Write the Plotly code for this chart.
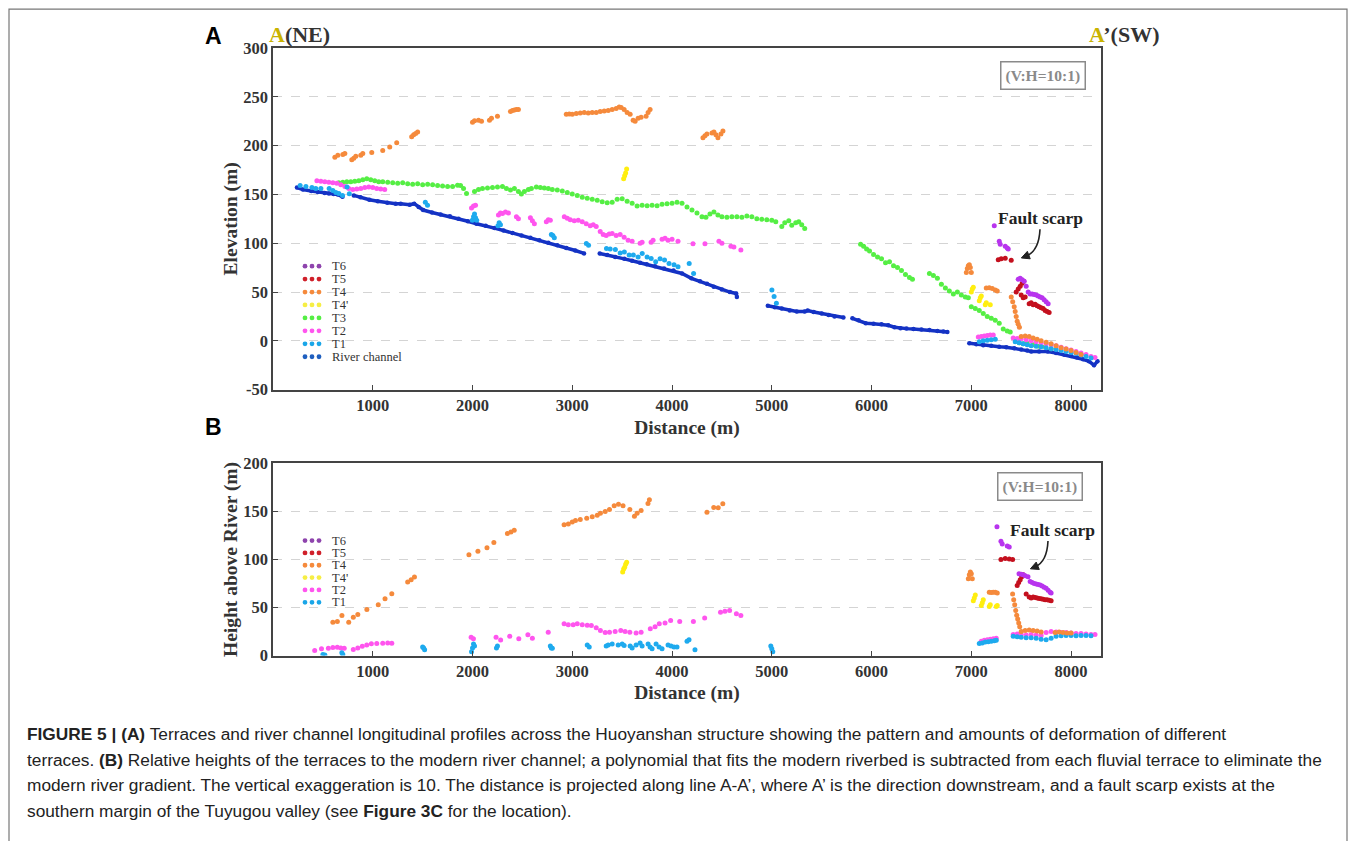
import plotly.graph_objects as go

W, H = 1355, 841

# ---------------- DATA ----------------
# Panel A: elevation (m) vs distance (m)
river_x = [240, 300, 384, 450, 518, 560, 608, 650, 697, None,
           810, 877, 966, 1050, 1146, 1230, 1280, 1370, 1415, 1460, 1505, 1594, 1680, 1773, 1860, 1953,
           2040, 2132, 2220, 2311, 2401, 2491, 2580, 2670, 2760, 2850, 2940, 3030, 3118, None,
           3275, 3350, 3430, 3522, 3600, 3680, 3746, 3830, 3920, 4015, 4100, 4194, 4280, 4350, 4418,
           4500, 4580, 4643, 4650, None,
           4960, 5030, 5100, 5180, 5250, 5330, 5360, 5420, 5500, 5570, 5629, 5718, None,
           5808, 5870, 5942, 6020, 6100, 6167, 6230, 6290, 6350, 6420, 6500, 6580, 6660, 6720, 6760, None,
           6980, 7050, 7120, 7200, 7280, 7350, 7430, 7500, 7560, 7600, 7680, 7766, 7850, 7933, 8000,
           8060, 8120, 8180, 8230, 8265]
river_y = [157, 155, 153.5, 152.5, 151.5, 151, 150.5, 150, 147.5, None,
           149, 147, 144.5, 143, 141.5, 140.5, 140.5, 139.4, 140.5, 137, 134, 131.5, 129.5, 127.5, 125, 122.5,
           120, 118, 115.5, 113, 110.5, 108, 105.5, 103, 100.5, 98, 95, 92.5, 89.5, None,
           89.5, 88, 86, 84, 82, 80, 78.5, 76.5, 74, 72, 69, 64, 61, 58.5, 55.5,
           52.5, 50, 48.5, 45, None,
           36, 34.5, 33, 31, 30, 30, 31, 29.5, 28, 26.5, 25, 24, None,
           23, 21, 18, 17.5, 17, 16, 14, 13, 12.5, 12, 11.5, 11, 10, 9.5, 9, None,
           -2.5, -3.5, -4.5, -5, -6, -6.5, -7.5, -9, -10, -11, -11, -11, -12.5, -14.3, -15.5,
           -17, -19, -21, -25, -21]

t1_x = [272, 330, 390, 429, 480, 563, 600, 630, 660, 697, 742, 765, 1527, 1549,
        1998, 2010, 2020, 2030, 2042, 2255, 2267, 2280, 2790, 2805, 2820, 3141, 3163,
        3343, 3380, 3432, 3480, 3522, 3570, 3612, 3660, 3701, 3750, 3791, 3836, 3880, 3925,
        3970, 4020, 4060, 4172, 4216, 5001, 5023, 5046,
        7080, 7120, 7160, 7200, 7240,
        7440, 7480, 7520, 7560, 7600, 7650, 7700, 7750, 7800, 7850, 7900, 7950, 8000, 8050,
        8100, 8150, 8200]
t1_y = [159, 158, 157, 156, 156, 156, 154, 152, 151, 149, 157.5, 150.7, 142, 138.8,
        123.5, 127, 130, 126, 123.5, 118, 121, 119, 109, 108, 105.5, 99.7, 98,
        94.6, 94, 93.6, 90, 91, 88, 87.8, 86, 89.5, 86, 84.4, 81, 84, 82.7,
        79.3, 78, 75.9, 79.3, 69, 52, 45.3, 38.5,
        -1, 0, 0.5, 1, 1.5,
        -1, -2, -3, -4, -5, -5.5, -6, -7, -8, -9, -10, -11, -12, -13,
        -14.5, -16, -17.5]

t2_x = [440, 480, 520, 560, 600, 640, 680, 720, 760, 800, 840, 880, 920, 960, 1000, 1040, 1080, 1120,
        1990, 2010, 2030, 2260, 2280, 2300, 2330, 2360, 2440, 2460, 2580, 2600, 2620, 2740, 2760, 2780,
        2920, 2950, 2980, 3020, 3060, 3100, 3140, 3180, 3210, 3240, 3280, 3310, 3340, 3370, 3400,
        3440, 3480, 3520, 3560, 3600, 3680, 3700, 3790, 3810, 3900, 3930, 3960, 4000, 4060, 4210,
        4330, 4470, 4500, 4590, 4620, 4690,
        7070, 7100, 7130, 7160, 7190, 7220,
        7420, 7460, 7500, 7550, 7600, 7650, 7700, 7750, 7800, 7850, 7900, 7950, 8000, 8050, 8100,
        8150, 8200, 8240]
t2_y = [164, 163.5, 163, 162.5, 162, 161.5, 160, 158, 156, 155, 155.5, 156, 157, 157.5, 157, 156, 155.5, 155,
        136, 138, 139, 129, 131, 130.5, 132, 131, 127, 125, 126, 123, 120, 122, 124, 123.5,
        127, 125.5, 124, 123, 123.5, 122, 120, 118, 119, 117, 112, 109, 108, 109.5, 110,
        108, 109, 106, 103, 102, 100, 101, 101, 103, 104, 105, 103, 104, 102, 99.5,
        99.5, 102, 100, 97, 96, 93,
        4, 4.5, 5, 5.5, 6, 6,
        3, 2.5, 2, 1, 0, -1, -2, -3, -4, -5, -6.5, -8, -9.5, -11, -12.5,
        -14, -16, -17]

t3_x = [660, 700, 740, 780, 820, 860, 900, 940, 980, 1020, 1060, 1100, 1150, 1200, 1250, 1300, 1350,
        1400, 1450, 1500, 1550, 1600, 1650, 1700, 1750, 1800, 1850, 1880, 1910, 1940,
        2020, 2060, 2100, 2150, 2200, 2250, 2300, 2340, 2380, 2420, 2460, 2490, 2520, 2560, 2590,
        2640, 2680, 2720, 2760, 2800, 2850, 2900, 2950, 3000, 3050, 3100, 3150, 3200, 3250, 3300,
        3350, 3400, 3450, 3500, 3550, 3600, 3650, 3700, 3750, 3800, 3850, 3900, 3950, 4000, 4050,
        4100, 4150, 4200, 4250, 4300, 4340, 4380, 4420, 4460, 4500, 4550, 4600, 4650, 4700, 4750,
        4800, 4850, 4900, 4950, 5000, 5040,
        5100, 5130, 5170, 5200, 5240, 5270, 5300, 5330,
        5890, 5920, 5950, 5980, 6020, 6060, 6100, 6140, 6180, 6220, 6260, 6300, 6340, 6380, 6410,
        6580, 6620, 6660, 6700, 6740, 6780, 6820, 6860, 6900, 6940, 6970, 7000, 7040, 7080, 7120,
        7160, 7200, 7240, 7280, 7320, 7360, 7390,
        7480, 7520, 7560, 7620, 7680, 7740, 7800]
t3_y = [162, 162.5, 163, 163, 163.5, 164, 165, 166, 165, 164, 163, 163, 162.5, 162, 161.5, 162, 161,
        160.5, 161, 160, 160.5, 160, 159, 158.5, 158, 158, 159.5, 159, 156, 151,
        153, 155, 156, 156.5, 157, 157.5, 158, 156, 154.5, 156, 153, 150.5, 153, 155, 156,
        157.5, 157, 156.5, 156, 155, 154.5, 153.5, 152, 150.5, 149, 147, 146, 145, 144, 142.5,
        141.5, 142, 145, 145.5, 143, 141, 138, 139, 138.5, 139, 138.5, 140, 140.5, 141, 142,
        141, 137, 134, 131, 127, 126.5, 130, 132, 129, 127, 126.5, 127, 127, 126.5, 128,
        127, 125, 124.5, 124, 123.5, 122,
        117, 121, 123, 118.5, 121, 122, 119, 115,
        99, 97, 94, 92, 88.5, 86, 84, 80, 81, 77, 75, 72, 68, 65, 63,
        69, 67, 64, 58, 54, 51, 48, 50, 47, 45, 44, 35, 33, 31, 28,
        25, 23, 21, 18, 12, 10, 9,
        -2, -3, -2.5, -4, -5.5, -6, -8]

t4p_x = [3515, 3525, 3535, 3545, 7000, 7010, 7020, 7080, 7090, 7100, 7140, 7150, 7190]
t4p_y = [166, 169, 172, 176, 50, 53, 55, 41, 44, 46, 37, 39, 37]

t4_x = [620, 650, 700, 720, 790, 810, 830, 880, 900, 990, 1100, 1170, 1240, 1390, 1410, 1430, 1450,
        2000, 2020, 2060, 2090, 2170, 2190, 2250, 2380, 2400, 2420, 2440, 2460,
        2940, 2970, 3000, 3040, 3080, 3120, 3160, 3200, 3240, 3280, 3320, 3360, 3400, 3440, 3470,
        3490, 3520, 3550, 3580, 3610, 3630, 3660, 3690, 3740, 3760, 3780,
        4310, 4330, 4350, 4400, 4420, 4440, 4460, 4490, 4510,
        6950, 6960, 6970, 6980, 6990, 7000, 7150, 7180, 7210, 7240, 7260,
        7400, 7415, 7430, 7440, 7450, 7460, 7470, 7482,
        7500, 7540, 7580, 7620, 7660, 7700, 7750, 7800, 7850, 7900, 7950, 8000, 8050, 8100]
t4_y = [188, 190, 191, 192, 185.5, 187, 189, 190, 192, 193, 195, 198.5, 203, 209, 211, 212.5, 214,
        224, 225.5, 226, 225, 226, 228, 230, 235, 236, 236.5, 237, 237,
        232, 232.5, 232, 233, 233.5, 234, 233.5, 234, 234, 235, 235.5, 236, 237, 238, 239.5,
        239, 237, 234, 232, 226, 225, 228, 229, 230, 234, 237,
        208, 210, 212, 213, 214, 211, 208, 212, 215,
        70, 74, 77, 78, 75, 70, 54, 54.5, 53.5, 52, 51,
        45, 40, 35, 30, 25, 20, 17, 14,
        4.4, 5, 4.5, 3, 1.5, 0, -1.5, -3, -5, -7, -8.5, -10, -12, -14]

t5_x = [7270, 7300, 7340, 7400, 7450, 7470, 7490, 7510, 7525, 7500, 7520, 7540,
        7580, 7600, 7620, 7640, 7660, 7680, 7700, 7720, 7740, 7760, 7780]
t5_y = [83, 84, 84.5, 82.5, 50, 53, 56, 59, 61, 47, 44, 45,
        38, 39, 37, 37.5, 36, 35, 34, 33, 31, 30, 29]

t6_x = [7230, 7280, 7290, 7340, 7360, 7370, 7470, 7490, 7510, 7530, 7550, 7570, 7590, 7610,
        7630, 7650, 7670, 7690, 7710, 7730, 7750, 7770]
t6_y = [118, 102, 99, 97, 95, 94, 63, 64, 62.5, 61, 56, 50, 48, 48,
        47.5, 47, 46, 45, 44, 42, 40, 38]

# Panel B: height above river (m) vs distance (m)
b_t1_x = [500, 520, 690, 700, 1500, 1510, 1520, 1990, 2000, 2010, 2020, 2240, 2250, 2780, 2790, 2800,
          3150, 3170, 3340, 3360, 3400, 3460, 3500, 3520, 3580, 3600, 3640, 3680, 3700, 3760, 3780,
          3800, 3840, 3870, 3900, 3960, 3990, 4020, 4050, 4150, 4170, 4230, 4990, 5000, 5010,
          7080, 7110, 7140, 7170, 7200, 7230, 7250,
          7420, 7460, 7500, 7550, 7600, 7650, 7700, 7750, 7800, 7850, 7900, 7950, 8000, 8050,
          8100, 8150, 8200]
b_t1_y = [1, 0.5, 3, 1, 9, 8, 6, 4, 8, 12, 10, 8, 10, 10, 8, 7.5,
          11, 9, 10, 11, 12, 11, 12, 10.5, 10, 8, 11, 13, 10, 12, 9,
          7, 12, 9, 7, 11, 10, 9, 9, 15, 16.5, 6, 10, 7, 4,
          12.5, 13, 14, 14.5, 15, 15.5, 16,
          20, 19.5, 19, 18.5, 18.5, 18, 17, 16.5, 18, 20, 20.5, 21, 21, 20.5,
          21, 21, 20.5]

b_t2_x = [418, 486, 555, 600, 645, 680, 714, 805, 850, 895, 940, 986, 1040, 1100, 1150, 1191,
          1986, 2009, 2236, 2282, 2373, 2464, 2555, 2600, 2759, 2918, 2960, 3009, 3050, 3100, 3150,
          3191, 3240, 3282, 3330, 3373, 3430, 3486, 3530, 3577, 3640, 3690, 3782, 3830, 3872, 3930,
          3986, 4077, 4214, 4327, 4486, 4530, 4577, 4645, 4690,
          7100, 7130, 7160, 7190, 7220, 7250,
          7420, 7460, 7500, 7550, 7600, 7650, 7700, 7750, 7800, 7850, 7900, 7950, 8000, 8050,
          8100, 8150, 8200, 8240]
b_t2_y = [5.2, 7, 7.7, 8.5, 8.7, 8, 7.7, 6.3, 8, 9.7, 11, 12.2, 12.5, 12.9, 13, 12.9,
          19, 17.4, 19, 16.3, 20.2, 17.4, 21.6, 18, 24.3, 33, 32, 32, 33, 32, 31.5,
          31.3, 29, 26, 24, 24.3, 25, 26, 25, 24.3, 23.5, 24.3, 27.8, 30, 33, 34,
          36.5, 35.5, 35.5, 39, 45.2, 46, 47, 43.5, 41.7,
          15, 16, 16.5, 17, 17.5, 18,
          22, 22.5, 22, 21.5, 22, 21.5, 21, 24, 25, 24.5, 24, 24, 23.5, 23,
          23, 22.5, 22, 22]

b_t4p_x = [3505, 3515, 3525, 3535, 3545, 7020, 7030, 7040, 7100, 7110, 7120, 7180, 7190, 7250, 7260]
b_t4p_y = [87, 90, 92, 95, 97, 57, 60, 63, 52, 55, 58, 51, 53, 51, 52]

b_t4_x = [600, 645, 691, 759, 805, 850, 941, 1055, 1123, 1191, 1350, 1385, 1418,
          1964, 2054, 2145, 2214, 2350, 2385, 2418,
          2918, 2960, 3000, 3032, 3080, 3145, 3200, 3250, 3282, 3330, 3373, 3420, 3463, 3509,
          3577, 3623, 3650, 3690, 3759, 3773,
          4350, 4418, 4463, 4509,
          6970, 6980, 6990, 7000, 7010, 7180, 7200, 7220, 7240, 7260,
          7414, 7425, 7435, 7445, 7455, 7465, 7475, 7485,
          7500, 7540, 7580, 7620, 7660, 7700, 7840, 7880, 7920, 7960, 8000]
b_t4_y = [34.8, 35.5, 41.7, 34.8, 40, 42.8, 48, 52.9, 59, 64.3, 76.5, 79, 81.7,
          105, 108.5, 112.3, 117.6, 127, 128.5, 130.4,
          136, 137, 139, 140.5, 141.5, 143, 144.5, 146, 148, 150, 152, 156, 157.5, 156,
          152, 145, 148, 151, 158.2, 162,
          149, 154, 153.7, 158,
          80, 84, 87, 85, 80, 66, 65.5, 66, 66, 65,
          64, 58, 53, 47, 42, 38, 34, 30,
          25, 26, 26.5, 26, 25.5, 24.5, 24, 24.5, 24, 23.5, 23.5]

b_t5_x = [7297, 7340, 7380, 7414, 7460, 7475, 7490, 7505, 7520, 7550, 7580, 7600, 7620, 7640,
          7660, 7680, 7700, 7720, 7740, 7760, 7780, 7800]
b_t5_y = [100, 101, 100.5, 100, 73, 76, 79, 82, 84, 64, 61, 60, 61, 60.5,
          60, 59.5, 59, 58.5, 58, 58, 57.5, 57]

b_t6_x = [7257, 7297, 7310, 7360, 7380, 7478, 7500, 7520, 7540, 7568, 7590, 7610, 7630, 7650,
          7670, 7690, 7710, 7730, 7750, 7770, 7790, 7800]
b_t6_y = [134, 119, 116, 114, 113, 85, 84.5, 84, 83, 82, 77, 76, 75, 74.5,
          74, 73.5, 72.5, 71, 70, 68, 66, 65]

# Axis ticks
x_ticks = [1000, 2000, 3000, 4000, 5000, 6000, 7000, 8000]
ya_ticks = [-50, 0, 50, 100, 150, 200, 250, 300]
yb_ticks = [0, 50, 100, 150, 200]

# Series names / colours (plot colour, legend colour)
legend_a = ["T6", "T5", "T4", "T4'", "T3", "T2", "T1", "River channel"]
legend_b = ["T6", "T5", "T4", "T4'", "T2", "T1"]
plot_color = {"T6": "#b834ee", "T5": "#c4101e", "T4": "#f58a3c", "T4'": "#ffee10",
              "T3": "#55ee44", "T2": "#ff55ee", "T1": "#1eaaee", "River channel": "#1432c4"}
legend_color = {"T6": "#8e44ad", "T5": "#d0202a", "T4": "#f58a3c", "T4'": "#f6ee44",
                "T3": "#55ee44", "T2": "#ff55ee", "T1": "#1aa6e8", "River channel": "#1f5fbf"}

# ---------------- FIGURE ----------------
def px(x):
    return x / W

def py(y):
    # page-pixel (from top) -> paper fraction, with a small vertical correction
    return 1 - (y / 0.9813 - 8) / H

fig = go.Figure()

series_a = [("T3", t3_x, t3_y), ("T2", t2_x, t2_y), ("T1", t1_x, t1_y), ("T4", t4_x, t4_y),
            ("T4'", t4p_x, t4p_y), ("T5", t5_x, t5_y), ("T6", t6_x, t6_y)]
fig.add_trace(go.Scatter(x=river_x, y=river_y, mode="lines+markers", name="River channel",
                         line=dict(color=plot_color["River channel"], width=3.5),
                         marker=dict(color=plot_color["River channel"], size=4.5),
                         connectgaps=False, showlegend=False, xaxis="x", yaxis="y"))
for name, xs, ys in series_a:
    fig.add_trace(go.Scatter(x=xs, y=ys, mode="markers", name=name,
                             marker=dict(color=plot_color[name], size=5),
                             showlegend=False, xaxis="x", yaxis="y"))

series_b = [("T2", b_t2_x, b_t2_y), ("T1", b_t1_x, b_t1_y), ("T4", b_t4_x, b_t4_y),
            ("T4'", b_t4p_x, b_t4p_y), ("T5", b_t5_x, b_t5_y), ("T6", b_t6_x, b_t6_y)]
for name, xs, ys in series_b:
    fig.add_trace(go.Scatter(x=xs, y=ys, mode="markers", name=name,
                             marker=dict(color=plot_color[name], size=5),
                             showlegend=False, xaxis="x2", yaxis="y2"))

serif = "Liberation Serif, Times New Roman, serif"
sans = "Liberation Sans, Arial, sans-serif"
tickfont = dict(family=serif, size=16.5, color="#333", weight="bold")
titlefont = dict(family=serif, size=19.5, color="#333", weight="bold")

xdom = [px(273), px(1101)]
common_x = dict(domain=xdom, range=[0, 8300], tickvals=x_ticks, ticktext=[str(v) for v in x_ticks],
                showline=True, mirror=True, linecolor="#444", linewidth=1.5,
                ticks="inside", ticklen=5, tickcolor="#444", showgrid=False, zeroline=False,
                tickfont=tickfont)
common_y = dict(showline=True, mirror=True, linecolor="#444", linewidth=1.5,
                ticks="inside", ticklen=5, tickcolor="#444", showgrid=True,
                gridcolor="#d4d4d4", griddash="dash", gridwidth=1, zeroline=False,
                tickfont=tickfont)

fig.update_layout(
    width=W, height=H, margin=dict(l=0, r=0, t=0, b=0),
    paper_bgcolor="white", plot_bgcolor="white", showlegend=False,
    xaxis=dict(common_x, anchor="y", title=dict(text="Distance (m)", font=titlefont, standoff=6)),
    yaxis=dict(common_y, anchor="x", domain=[py(390), py(47)], range=[-50, 300],
               tickvals=ya_ticks, ticktext=[str(v) for v in ya_ticks],
               title=dict(text="Elevation (m)", font=titlefont, standoff=0)),
    xaxis2=dict(common_x, anchor="y2", title=dict(text="Distance (m)", font=titlefont, standoff=5)),
    yaxis2=dict(common_y, anchor="x2", domain=[py(657), py(464)], range=[0, 200],
                tickvals=yb_ticks, ticktext=[str(v) for v in yb_ticks],
                title=dict(text="Height above River (m)", font=titlefont, standoff=0)),
)

shapes = []
annotations = []

# outer frame (bottom edge runs off the page as in the reference)
shapes.append(dict(type="rect", xref="paper", yref="paper", x0=px(9), x1=px(1347), y0=-0.05, y1=py(8),
                   line=dict(color="#777", width=1.2), fillcolor="rgba(0,0,0,0)", layer="below"))

# manual legends (three dots + label per row)
def add_legend(names, y_first, step):
    for i, n in enumerate(names):
        yc = y_first + i * step
        for cx in (305, 312, 319):
            r = 2.4
            shapes.append(dict(type="circle", xref="paper", yref="paper",
                               x0=px(cx - r), x1=px(cx + r), y0=py(yc + r), y1=py(yc - r),
                               fillcolor=legend_color[n], line=dict(width=0)))
        annotations.append(dict(x=px(331), y=py(yc), xref="paper", yref="paper", text=n,
                                showarrow=False, xanchor="left", yanchor="middle", borderpad=0,
                                font=dict(family=serif, size=12.5, color="#333")))

add_legend(legend_a, 266, 13)
add_legend(legend_b, 541.5, 12.4)

# panel letters
for letter, yy in (("A", 35), ("B", 428)):
    annotations.append(dict(x=px(213), y=py(yy), xref="paper", yref="paper", text=letter,
                            showarrow=False, xanchor="center", yanchor="middle",
                            font=dict(family=sans, size=23, color="black", weight="bold")))

# section end labels
annotations.append(dict(x=px(267), y=py(33), xref="paper", yref="paper",
                        text="<span style='color:#c9b300'>A</span>(NE)", showarrow=False,
                        xanchor="left", yanchor="middle",
                        font=dict(family=serif, size=22, color="#333", weight="bold")))
annotations.append(dict(x=px(1087), y=py(33), xref="paper", yref="paper",
                        text="<span style='color:#c9b300'>A</span>’(SW)", showarrow=False,
                        xanchor="left", yanchor="middle",
                        font=dict(family=serif, size=22, color="#333", weight="bold")))

# vertical exaggeration boxes
for cx, cy in ((1043, 75), (1040, 487)):
    annotations.append(dict(x=px(cx), y=py(cy), xref="paper", yref="paper", text="(V:H=10:1)",
                            showarrow=False, xanchor="center", yanchor="middle",
                            bordercolor="#8a8a8a", borderwidth=1.5, borderpad=4, bgcolor="white",
                            font=dict(family=serif, size=15.5, color="#8a8a8a", weight="bold")))

# fault scarp labels with curved arrows
def curved_arrow(p0, c, p1):
    path = "M {:.5f},{:.5f} Q {:.5f},{:.5f} {:.5f},{:.5f}".format(px(p0[0]), py(p0[1]), px(c[0]), py(c[1]),
                                                                 px(p1[0]), py(p1[1]))
    shapes.append(dict(type="path", xref="paper", yref="paper", path=path,
                       line=dict(color="#222", width=1.6)))
    dx, dy = p1[0] - c[0], p1[1] - c[1]
    L = (dx * dx + dy * dy) ** 0.5
    ux, uy = dx / L, dy / L
    tip = (p1[0] + 5 * ux, p1[1] + 5 * uy)
    b1 = (p1[0] - 3 * ux - 4 * uy, p1[1] - 3 * uy + 4 * ux)
    b2 = (p1[0] - 3 * ux + 4 * uy, p1[1] - 3 * uy - 4 * ux)
    tri = "M {:.5f},{:.5f} L {:.5f},{:.5f} L {:.5f},{:.5f} Z".format(px(tip[0]), py(tip[1]), px(b1[0]), py(b1[1]),
                                                                       px(b2[0]), py(b2[1]))
    shapes.append(dict(type="path", xref="paper", yref="paper", path=tri,
                       fillcolor="#222", line=dict(color="#222", width=1)))

annotations.append(dict(x=px(1040), y=py(218), xref="paper", yref="paper", text="Fault scarp",
                        showarrow=False, xanchor="center", yanchor="middle",
                        font=dict(family=serif, size=17.5, color="#222", weight="bold")))
curved_arrow((1040, 229), (1039, 251), (1026, 256))
annotations.append(dict(x=px(1052), y=py(531), xref="paper", yref="paper", text="Fault scarp",
                        showarrow=False, xanchor="center", yanchor="middle",
                        font=dict(family=serif, size=17.5, color="#222", weight="bold")))
curved_arrow((1048, 542), (1047, 563), (1035, 568))

# caption
caption_lines = [
    "<b>FIGURE 5 | (A)</b> Terraces and river channel longitudinal profiles across the Huoyanshan structure showing the pattern and amounts of deformation of different",
    "terraces. <b>(B)</b> Relative heights of the terraces to the modern river channel; a polynomial that fits the modern riverbed is subtracted from each fluvial terrace to eliminate the",
    "modern river gradient. The vertical exaggeration is 10. The distance is projected along line A-A’, where A’ is the direction downstream, and a fault scarp exists at the",
    "southern margin of the Tuyugou valley (see <b>Figure 3C</b> for the location).",
]
for i, line in enumerate(caption_lines):
    annotations.append(dict(x=px(25), y=py(736 + i * 25.6), xref="paper", yref="paper", text=line,
                            showarrow=False, xanchor="left", yanchor="middle",
                            font=dict(family=sans, size=17.3, color="#222")))

fig.update_layout(shapes=shapes, annotations=annotations)
fig.write_html("out.html")
